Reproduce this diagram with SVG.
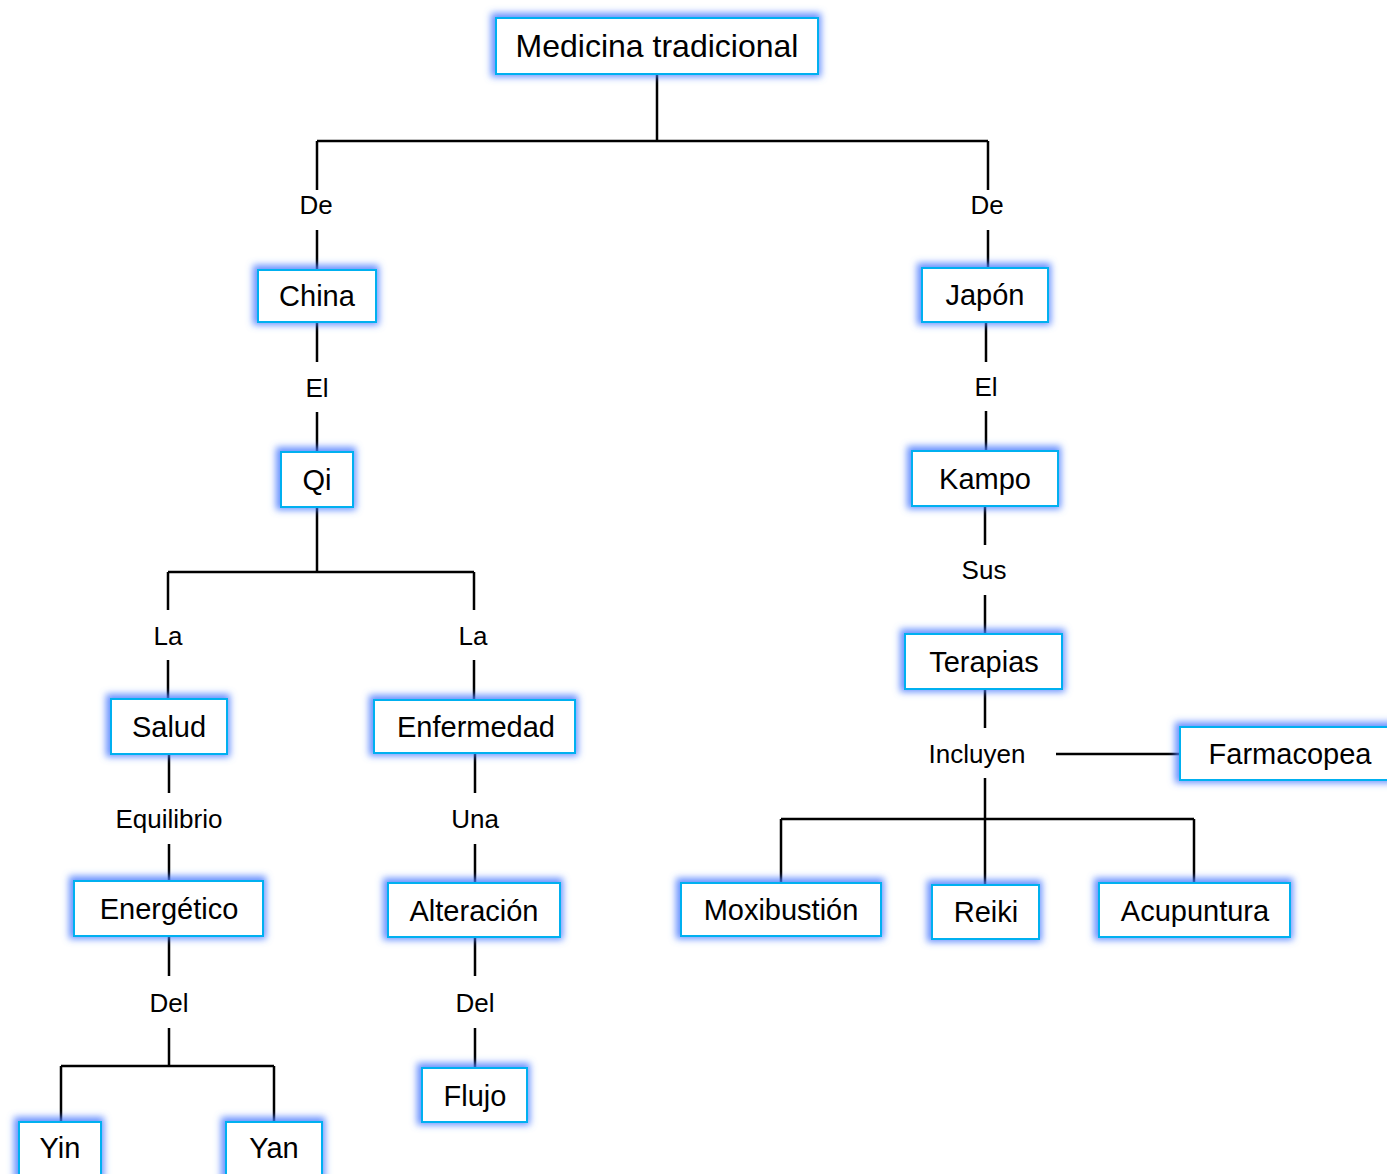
<svg xmlns="http://www.w3.org/2000/svg" width="1387" height="1174" viewBox="0 0 1387 1174">
<style>
.box{fill:#fff;stroke:#00b0f0;stroke-width:2;filter:url(#glow)}
.nt{font-family:"Liberation Sans",Arial,sans-serif;font-size:29px;fill:#000;text-anchor:middle}
.rt{font-size:32px}
.lb{font-family:"Liberation Sans",Arial,sans-serif;font-size:26px;fill:#000;text-anchor:middle}
.cn{stroke:#000;stroke-width:2.5;fill:none}
</style>
<defs>
<filter id="glow" x="-30%" y="-40%" width="160%" height="180%">
<feMorphology in="SourceAlpha" operator="dilate" radius="3" result="d"/>
<feGaussianBlur in="d" stdDeviation="3.5" result="b"/>
<feOffset in="b" dx="-1" dy="-1" result="o"/>
<feFlood flood-color="#4d7dff" flood-opacity="0.85"/>
<feComposite in2="o" operator="in" result="g"/>
<feMerge><feMergeNode in="g"/><feMergeNode in="SourceGraphic"/></feMerge>
</filter>
</defs>
<rect width="1387" height="1174" fill="#fff"/>
<g id="connectors">
<path class="cn" d="M657 74V141M317 141H988M317 141V190M317 230V270M988 141V190M988 230V268"/>
<path class="cn" d="M317 322V362M317 412V452M986 322V362M986 411V451"/>
<path class="cn" d="M317 507V572M168 572H474M168 572V610M168 660V699M474 572V610M474 660V700"/>
<path class="cn" d="M985 506V545M985 595V634M985 689V728M1056 754H1180M985 778V885M781 819H1194M781 819V883M1194 819V883"/>
<path class="cn" d="M169 754V793M169 844V881M475 753V793M475 844V883"/>
<path class="cn" d="M169 936V976M169 1028V1066M61 1066H274M61 1066V1122M274 1066V1122M475 937V976M475 1028V1068"/>
<text class="lb" x="316" y="214">De</text>
<text class="lb" x="987" y="214">De</text>
<text class="lb" x="317" y="397">El</text>
<text class="lb" x="986" y="396">El</text>
<text class="lb" x="168" y="645">La</text>
<text class="lb" x="473" y="645">La</text>
<text class="lb" x="984" y="579">Sus</text>
<text class="lb" x="977" y="763">Incluyen</text>
<text class="lb" x="169" y="828">Equilibrio</text>
<text class="lb" x="475" y="828">Una</text>
<text class="lb" x="169" y="1012">Del</text>
<text class="lb" x="475" y="1012">Del</text>
</g>
<g id="n-medicina"><rect class="box" x="496" y="18" width="322" height="56"/><text class="nt rt" x="657" y="57">Medicina tradicional</text></g>
<g id="n-china"><rect class="box" x="258" y="270" width="118" height="52"/><text class="nt" x="317" y="306">China</text></g>
<g id="n-japon"><rect class="box" x="922" y="268" width="126" height="54"/><text class="nt" x="985" y="305">Japón</text></g>
<g id="n-qi"><rect class="box" x="281" y="452" width="72" height="55"/><text class="nt" x="317" y="490">Qi</text></g>
<g id="n-kampo"><rect class="box" x="912" y="451" width="146" height="55"/><text class="nt" x="985" y="489">Kampo</text></g>
<g id="n-terapias"><rect class="box" x="905" y="634" width="157" height="55"/><text class="nt" x="984" y="672">Terapias</text></g>
<g id="n-farmacopea"><rect class="box" x="1180" y="727" width="220" height="53"/><text class="nt" x="1290" y="764">Farmacopea</text></g>
<g id="n-salud"><rect class="box" x="111" y="699" width="116" height="55"/><text class="nt" x="169" y="737">Salud</text></g>
<g id="n-enfermedad"><rect class="box" x="374" y="700" width="201" height="53"/><text class="nt" x="476" y="737">Enfermedad</text></g>
<g id="n-energetico"><rect class="box" x="74" y="881" width="189" height="55"/><text class="nt" x="169" y="919">Energético</text></g>
<g id="n-alteracion"><rect class="box" x="388" y="883" width="172" height="54"/><text class="nt" x="474" y="921">Alteración</text></g>
<g id="n-flujo"><rect class="box" x="422" y="1068" width="105" height="54"/><text class="nt" x="475" y="1106">Flujo</text></g>
<g id="n-yin"><rect class="box" x="19" y="1122" width="82" height="60"/><text class="nt" x="60" y="1158">Yin</text></g>
<g id="n-yan"><rect class="box" x="226" y="1122" width="96" height="60"/><text class="nt" x="274" y="1158">Yan</text></g>
<g id="n-moxibustion"><rect class="box" x="681" y="883" width="200" height="53"/><text class="nt" x="781" y="920">Moxibustión</text></g>
<g id="n-reiki"><rect class="box" x="932" y="885" width="107" height="54"/><text class="nt" x="986" y="922">Reiki</text></g>
<g id="n-acupuntura"><rect class="box" x="1099" y="883" width="191" height="54"/><text class="nt" x="1195" y="921">Acupuntura</text></g>
</svg>
